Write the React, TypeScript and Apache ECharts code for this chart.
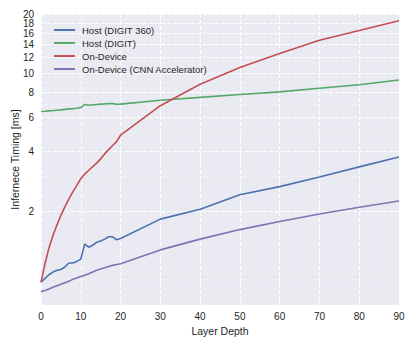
import React, { useEffect, useRef } from "react";
import * as echarts from "echarts";

const layers = [0, 1, 2, 3, 4, 5, 6, 7, 8, 9, 10, 11, 12, 13, 14, 15, 16, 17, 18, 19, 20, 30, 40, 50, 60, 70, 80, 90];

const hostDigit360 = [0.87, 0.91, 0.95, 0.98, 1.0, 1.01, 1.04, 1.09, 1.09, 1.11, 1.14, 1.36, 1.31, 1.34, 1.39, 1.41, 1.44, 1.48, 1.48, 1.43, 1.45, 1.82, 2.04, 2.42, 2.66, 2.98, 3.35, 3.76];
const hostDigit = [6.4, 6.42, 6.45, 6.47, 6.5, 6.52, 6.56, 6.6, 6.62, 6.65, 6.7, 6.95, 6.88, 6.92, 6.95, 6.98, 7.0, 7.03, 7.02, 6.96, 6.98, 7.3, 7.55, 7.8, 8.05, 8.4, 8.75, 9.25];
const onDevice = [0.87, 1.08, 1.3, 1.5, 1.7, 1.9, 2.1, 2.3, 2.5, 2.7, 2.92, 3.08, 3.22, 3.36, 3.5, 3.68, 3.9, 4.1, 4.3, 4.5, 4.85, 6.85, 8.8, 10.7, 12.6, 14.7, 16.5, 18.5];
const onDeviceCnn = [0.78, 0.79, 0.805, 0.82, 0.835, 0.85, 0.865, 0.88, 0.9, 0.915, 0.93, 0.945, 0.96, 0.98, 1.0, 1.015, 1.03, 1.045, 1.06, 1.07, 1.08, 1.27, 1.44, 1.61, 1.77, 1.93, 2.09, 2.25];

const seriesNames = ["Host (DIGIT 360)", "Host (DIGIT)", "On-Device", "On-Device (CNN Accelerator)"];
const seriesColors = ["#4C72B0", "#55A868", "#C44E52", "#8172B2"];

// major ticks (labelled, dashed grid) and minor ticks (dotted grid)
const majorTicks = [2, 4, 6, 8, 10, 12, 14, 16, 18, 20];
const minorTicks = [0.7, 0.8, 0.9, 3, 5, 7, 9];
// labels split over two overlaid axes so the tightly packed ones are not auto-hidden
const labelsA = [2, 4, 6, 8, 10, 14, 18];
const labelsB = [12, 16, 20];
const yMin = 0.667;
const yMax = 20;

const FONT = "'Liberation Sans', Arial, Helvetica, sans-serif";
const TEXT = "#262626";

export default function App() {
  const ref = useRef<HTMLDivElement>(null);

  useEffect(() => {
    if (!ref.current) return;
    const chart = echarts.init(ref.current, undefined, { renderer: "svg" });
    const lg = (v: number) => Math.log10(v);
    const allSeries = [hostDigit360, hostDigit, onDevice, onDeviceCnn];
    const labelFmt = (v: number) => String(Math.round(Math.pow(10, v)));
    const labelBase = {
      margin: 7,
      fontFamily: FONT,
      fontSize: 10,
      color: TEXT,
      hideOverlap: false,
      showMinLabel: true,
      showMaxLabel: true,
      formatter: labelFmt,
    };

    chart.setOption({
      animation: false,
      backgroundColor: "#ffffff",
      textStyle: { fontFamily: FONT },
      grid: {
        left: 41,
        right: 16,
        top: 14,
        bottom: 41,
        containLabel: false,
        outerBoundsMode: "none",
        show: true,
        backgroundColor: "#EAEAF2",
        borderWidth: 0,
      },
      legend: {
        show: true,
        orient: "vertical",
        left: 49,
        top: 20,
        icon: "rect",
        itemWidth: 21,
        itemHeight: 2,
        itemGap: 3,
        textStyle: { fontFamily: FONT, fontSize: 9.5, color: TEXT, padding: [0, 0, 0, 2] },
        data: seriesNames,
      },
      xAxis: {
        type: "value",
        min: 0,
        max: 90,
        interval: 10,
        name: "Layer Depth",
        nameLocation: "middle",
        nameGap: 18,
        nameTextStyle: { fontFamily: FONT, fontSize: 10.5, color: TEXT },
        axisLine: { show: false },
        axisTick: { show: false },
        axisLabel: { margin: 6, fontFamily: FONT, fontSize: 10, color: TEXT, showMinLabel: true, showMaxLabel: true },
        splitLine: { show: true, lineStyle: { color: "#ffffff", width: 1, type: [4, 2] } },
      },
      yAxis: [
        {
          type: "value",
          min: lg(yMin),
          max: lg(yMax) + 1e-9,
          name: "Infernece Timing [ms]",
          nameLocation: "middle",
          nameGap: 21,
          nameMoveOverlap: false,
          nameTextStyle: { fontFamily: FONT, fontSize: 10.5, color: TEXT },
          axisLine: { show: false },
          axisTick: { show: false, customValues: majorTicks.map(lg) },
          axisLabel: { ...labelBase, customValues: labelsA.map(lg) },
          splitLine: { show: true, lineStyle: { color: "#ffffff", width: 1, type: [4, 2] } },
        },
        {
          type: "value",
          min: lg(yMin),
          max: lg(yMax) + 1e-9,
          position: "left",
          offset: 0,
          axisLine: { show: false },
          axisTick: { show: false, customValues: minorTicks.map(lg) },
          axisLabel: { ...labelBase, customValues: labelsB.map(lg) },
          splitLine: { show: true, lineStyle: { color: "#ffffff", width: 0.7, type: [1, 2] } },
        },
      ],
      series: allSeries.map((vals, i) => ({
        name: seriesNames[i],
        type: "line",
        yAxisIndex: 0,
        symbol: "none",
        showSymbol: false,
        color: seriesColors[i],
        lineStyle: { color: seriesColors[i], width: 1.6 },
        data: layers.map((x, j) => [x, lg(vals[j])]),
      })),
    });

    return () => chart.dispose();
  }, []);

  return <div ref={ref} style={{ width: 415, height: 346, position: "absolute", left: 0, top: 0 }} />;
}
